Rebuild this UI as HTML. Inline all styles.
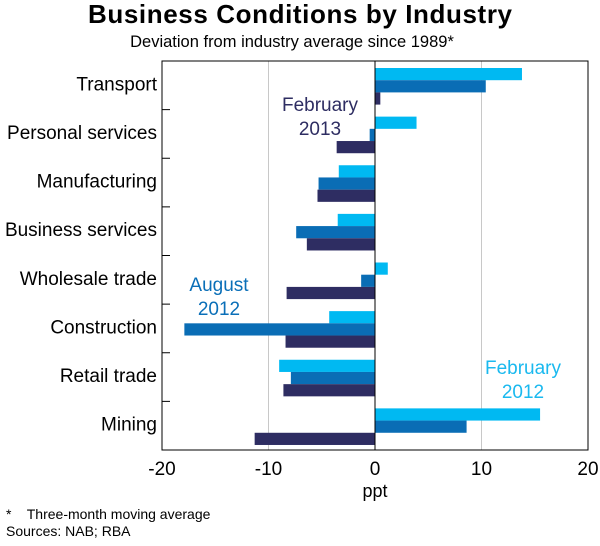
<!DOCTYPE html>
<html><head><meta charset="utf-8"><style>
body{margin:0;background:#fff;font-family:"Liberation Sans",Arial,sans-serif;}
text{white-space:pre;}
</style></head><body>
<svg id="c" width="600" height="541" xmlns="http://www.w3.org/2000/svg">
<text x="300" y="23" text-anchor="middle" font-size="26" font-weight="bold" textLength="424">Business Conditions by Industry</text>
<text x="292" y="47" text-anchor="middle" font-size="16.5">Deviation from industry average since 1989*</text>
<g id="grid"></g><g id="bars"></g><g id="axes"></g>
<text x="320" y="111" text-anchor="middle" font-size="19" fill="#2e2d62">February</text>
<text x="320" y="135" text-anchor="middle" font-size="19" fill="#2e2d62">2013</text>
<text x="219" y="291" text-anchor="middle" font-size="19" fill="#0a6fb8">August</text>
<text x="219" y="315" text-anchor="middle" font-size="19" fill="#0a6fb8">2012</text>
<text x="523" y="374" text-anchor="middle" font-size="19" fill="#1ab9ef">February</text>
<text x="523" y="398" text-anchor="middle" font-size="19" fill="#1ab9ef">2012</text>
<text x="375" y="497" text-anchor="middle" font-size="18">ppt</text>
<text x="6" y="519" font-size="14">*    Three-month moving average</text>
<text x="6" y="536" font-size="14">Sources: NAB; RBA</text>
</svg>
<script>
const categories=["Transport","Personal services","Manufacturing","Business services","Wholesale trade","Construction","Retail trade","Mining"];
const feb2012=[13.8,3.9,-3.4,-3.5,1.2,-4.3,-9.0,15.5];
const aug2012=[10.4,-0.5,-5.3,-7.4,-1.3,-17.9,-7.9,8.6];
const feb2013=[0.5,-3.6,-5.4,-6.4,-8.3,-8.4,-8.6,-11.3];
const xTicks=[-20,-10,0,10,20];
const NS="http://www.w3.org/2000/svg";
const L=162,R=588,T=61,B=450;
const x=v=>L+(v+20)/40*(R-L);
const rowH=(B-T)/categories.length;
function mk(tag,attrs,parent){const e=document.createElementNS(NS,tag);for(const k in attrs)e.setAttribute(k,attrs[k]);document.getElementById(parent).appendChild(e);return e;}
xTicks.forEach(t=>{
 if(t===-10||t===10){const g=mk('line',{x1:x(t),x2:x(t),y1:T,y2:B,stroke:'#c8c8c8','stroke-width':1},'grid');
 
 }
 const tx=mk('text',{x:x(t),y:B+25,'text-anchor':'middle','font-size':19},'axes');tx.textContent=t;
 
 
});
const series=[[feb2012,'#00b9f2','bar-feb-2012'],[aug2012,'#0a6db5','bar-aug-2012'],[feb2013,'#2e2d62','bar-feb-2013']];
categories.forEach((c,i)=>{
 const y0=T+i*rowH;
 series.forEach(([d,col,nm],j)=>{
  const v=d[i];const a=Math.min(x(0),x(v));
  const r=mk('rect',{x:a,y:y0+7+j*12.2,width:Math.abs(x(v)-x(0)),height:12.2,fill:col},'bars');
  
  
 });
 const lb=mk('text',{x:157,y:y0+rowH/2+5,'text-anchor':'end','font-size':19},'axes');lb.textContent=c;
 
 
 if(i>0){const tk=mk('line',{x1:L,x2:L+8,y1:y0,y2:y0,stroke:'#000'},'axes');
 
 }
});
const fr=mk('rect',{x:L,y:T,width:R-L,height:B-T,fill:'none',stroke:'#000','stroke-width':1},'axes');


const z=mk('line',{x1:x(0),x2:x(0),y1:T,y2:B,stroke:'#000'},'axes');


</script>
</body></html>
